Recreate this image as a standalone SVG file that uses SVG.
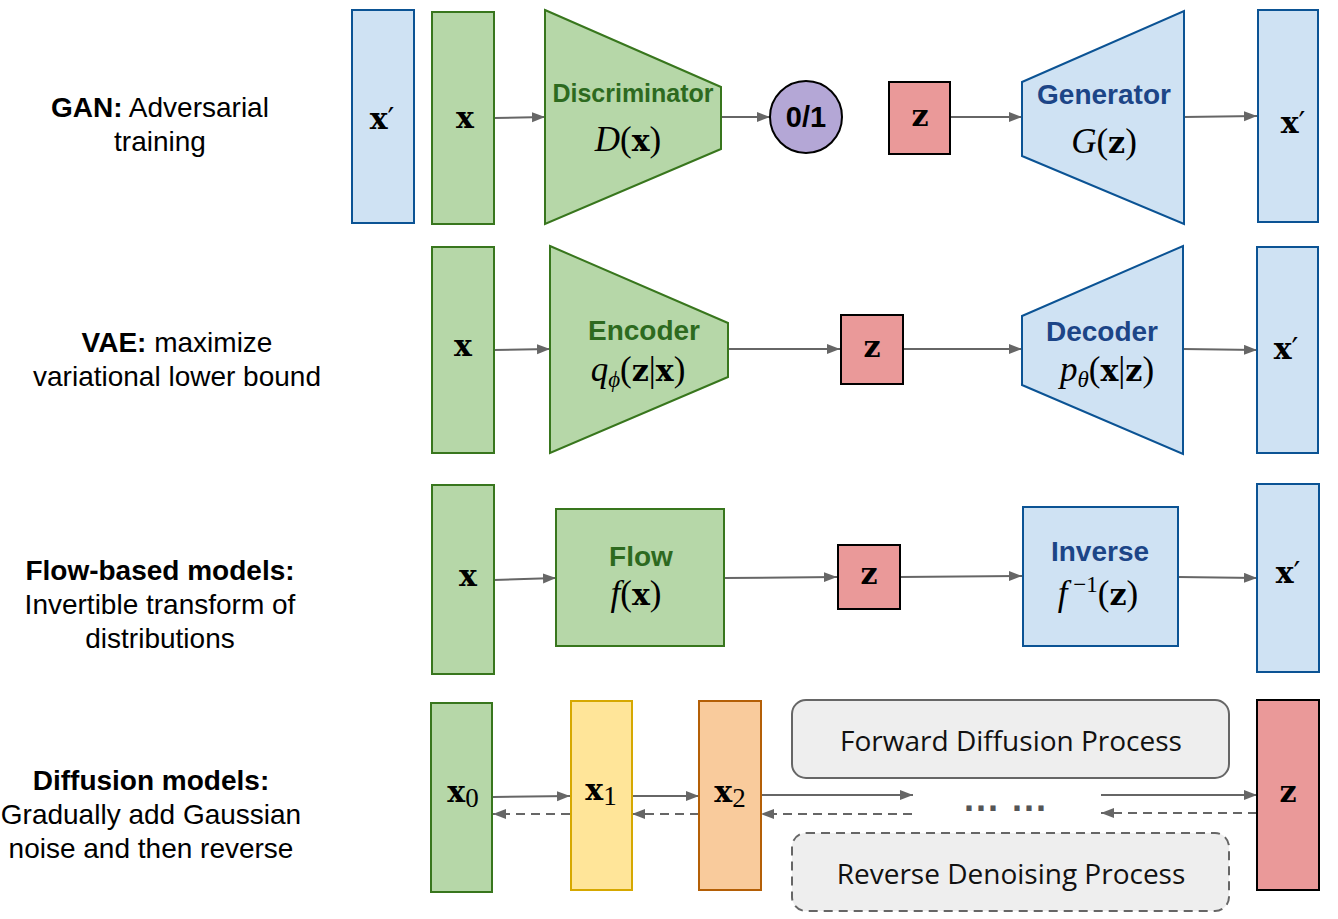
<svg xmlns="http://www.w3.org/2000/svg" width="1338" height="919" viewBox="0 0 1338 919">
<defs>
<marker id="ah" markerUnits="userSpaceOnUse" markerWidth="14" markerHeight="11" refX="13" refY="5" orient="auto">
<path d="M0,0 L13,5 L0,10 z" fill="#666"/>
</marker>
<style>
.lab{font-family:"Liberation Sans",Arial,sans-serif;font-size:28px;fill:#000;text-anchor:middle}
.b{font-weight:bold}
.g{fill:#b6d7a8;stroke:#38761d;stroke-width:2}
.bl{fill:#cfe2f3;stroke:#0b5394;stroke-width:2}
.r{fill:#ea9999;stroke:#000;stroke-width:2}
.ttl{font-family:"Liberation Sans",Arial,sans-serif;font-weight:bold;font-size:28px;text-anchor:middle}
.tg{fill:#2d6a1f}
.tb{fill:#1c4587}
.m{font-family:"Liberation Serif",serif;font-size:35px;fill:#000;text-anchor:middle}
.mb{font-family:"DejaVu Serif",serif;font-weight:bold;font-size:30px}
.mi{font-style:italic}
.sub{font-size:23px}
.pr{font-family:"DejaVu Sans",sans-serif;font-weight:normal;font-size:30px}
.c{fill:none;stroke:#666;stroke-width:2;marker-end:url(#ah)}
.d{stroke-dasharray:9 6}
.proc{font-family:"Open Sans","Noto Sans",sans-serif;font-size:28px;fill:#111;text-anchor:middle}
</style>
</defs>
<rect width="1338" height="919" fill="#fff"/>

<g id="labels">
<text class="lab" x="160" y="117"><tspan class="b">GAN:</tspan> Adversarial</text>
<text class="lab" x="160" y="151">training</text>
<text class="lab" x="177" y="352"><tspan class="b">VAE:</tspan> maximize</text>
<text class="lab" x="177" y="386">variational lower bound</text>
<text class="lab b" x="160" y="580">Flow-based models:</text>
<text class="lab" x="160" y="614">Invertible transform of</text>
<text class="lab" x="160" y="648">distributions</text>
<text class="lab b" x="151" y="790">Diffusion models:</text>
<text class="lab" x="151" y="824">Gradually add Gaussian</text>
<text class="lab" x="151" y="858">noise and then reverse</text>
</g>

<g id="connectors">
<line class="c" x1="494" y1="118" x2="545" y2="117"/>
<line class="c" x1="721" y1="117" x2="770" y2="117"/>
<line class="c" x1="950" y1="117" x2="1022" y2="117"/>
<line class="c" x1="1184" y1="117" x2="1257" y2="116"/>
<line class="c" x1="494" y1="350" x2="550" y2="349"/>
<line class="c" x1="728" y1="349" x2="840" y2="349"/>
<line class="c" x1="903" y1="349" x2="1022" y2="349"/>
<line class="c" x1="1183" y1="349" x2="1257" y2="350"/>
<line class="c" x1="494" y1="580" x2="556" y2="578"/>
<line class="c" x1="724" y1="578" x2="837" y2="577"/>
<line class="c" x1="900" y1="577" x2="1022" y2="576"/>
<line class="c" x1="1178" y1="577" x2="1257" y2="578"/>
<line class="c" x1="493" y1="797" x2="570" y2="796"/>
<line class="c" x1="632" y1="796" x2="699" y2="796"/>
<line class="c" x1="761" y1="795" x2="913" y2="795"/>
<line class="c" x1="1101" y1="795" x2="1257" y2="795"/>
<line class="c d" x1="570" y1="814" x2="493" y2="814"/>
<line class="c d" x1="699" y1="814" x2="632" y2="814"/>
<line class="c d" x1="912" y1="814" x2="761" y2="814"/>
<line class="c d" x1="1257" y1="813" x2="1101" y2="813"/>
</g>

<g id="gan-xprime-in">
<rect class="bl" x="352" y="10" width="62" height="213"/>
<text class="m mb" x="382" y="129">x<tspan class="pr">′</tspan></text>
</g>
<g id="gan-x">
<rect class="g" x="432" y="12" width="62" height="212"/>
<text class="m mb" x="465" y="128">x</text>
</g>
<g id="discriminator">
<polygon class="g" points="545,10 721,87 721,149 545,224"/>
<text class="ttl tg" x="633" y="102" style="font-size:25px">Discriminator</text>
<text class="m" x="628" y="151"><tspan class="mi">D</tspan>(<tspan class="mb">x</tspan>)</text>
</g>
<g id="output-01">
<circle cx="806" cy="117" r="36" fill="#b4a7d6" stroke="#000" stroke-width="2"/>
<text x="806" y="127" style="font-family:'Liberation Sans',Arial,sans-serif;font-weight:bold;font-size:29px;text-anchor:middle">0/1</text>
</g>
<g id="gan-z">
<rect class="r" x="889" y="82" width="61" height="72"/>
<text class="m mb" x="920" y="126">z</text>
</g>
<g id="generator">
<polygon class="bl" points="1022,82 1184,11 1184,224 1022,156"/>
<text class="ttl tb" x="1104" y="104">Generator</text>
<text class="m" x="1104" y="153"><tspan class="mi">G</tspan>(<tspan class="mb">z</tspan>)</text>
</g>
<g id="gan-xprime-out">
<rect class="bl" x="1258" y="10" width="60" height="212"/>
<text class="m mb" x="1293" y="133">x<tspan class="pr">′</tspan></text>
</g>

<g id="vae-x">
<rect class="g" x="432" y="247" width="62" height="206"/>
<text class="m mb" x="463" y="356">x</text>
</g>
<g id="encoder">
<polygon class="g" points="550,246 728,323 728,377 550,453"/>
<text class="ttl tg" x="644" y="340">Encoder</text>
<text class="m" x="638" y="381"><tspan class="mi">q</tspan><tspan class="mi sub" dy="6">ϕ</tspan><tspan dy="-6">(</tspan><tspan class="mb">z</tspan>|<tspan class="mb">x</tspan>)</text>
</g>
<g id="vae-z">
<rect class="r" x="841" y="315" width="62" height="69"/>
<text class="m mb" x="872" y="357">z</text>
</g>
<g id="decoder">
<polygon class="bl" points="1022,316 1183,246 1183,454 1022,385"/>
<text class="ttl tb" x="1102" y="341">Decoder</text>
<text class="m" x="1107" y="381"><tspan class="mi">p</tspan><tspan class="mi sub" dy="6">θ</tspan><tspan dy="-6">(</tspan><tspan class="mb">x</tspan>|<tspan class="mb">z</tspan>)</text>
</g>
<g id="vae-xprime">
<rect class="bl" x="1257" y="247" width="61" height="206"/>
<text class="m mb" x="1286" y="359">x<tspan class="pr">′</tspan></text>
</g>

<g id="flow-x">
<rect class="g" x="432" y="485" width="62" height="189"/>
<text class="m mb" x="468" y="586">x</text>
</g>
<g id="flow">
<rect class="g" x="556" y="509" width="168" height="137"/>
<text class="ttl tg" x="641" y="566">Flow</text>
<text class="m" x="636" y="605"><tspan class="mi">f</tspan>(<tspan class="mb">x</tspan>)</text>
</g>
<g id="flow-z">
<rect class="r" x="838" y="545" width="62" height="64"/>
<text class="m mb" x="869" y="584">z</text>
</g>
<g id="inverse">
<rect class="bl" x="1023" y="507" width="155" height="139"/>
<text class="ttl tb" x="1100" y="561">Inverse</text>
<text class="m" x="1098" y="605"><tspan class="mi">f</tspan><tspan class="sub" dy="-13"> −1</tspan><tspan dy="13">(</tspan><tspan class="mb">z</tspan>)</text>
</g>
<g id="flow-xprime">
<rect class="bl" x="1257" y="484" width="62" height="188"/>
<text class="m mb" x="1288" y="583">x<tspan class="pr">′</tspan></text>
</g>

<g id="x0">
<rect class="g" x="431" y="703" width="61" height="189"/>
<text class="m mb" x="463" y="802">x<tspan style="font-family:'Liberation Serif',serif;font-weight:normal;font-size:27px" dy="5">0</tspan></text>
</g>
<g id="x1">
<rect x="571" y="701" width="61" height="189" fill="#ffe599" stroke="#d6a800" stroke-width="2"/>
<text class="m mb" x="601" y="800">x<tspan style="font-family:'Liberation Serif',serif;font-weight:normal;font-size:27px" dy="5">1</tspan></text>
</g>
<g id="x2">
<rect x="699" y="701" width="62" height="189" fill="#f9cb9c" stroke="#b45f06" stroke-width="2"/>
<text class="m mb" x="730" y="802">x<tspan style="font-family:'Liberation Serif',serif;font-weight:normal;font-size:27px" dy="5">2</tspan></text>
</g>
<g id="ellipsis">
<text x="964" y="811" style="font-family:'Liberation Sans',Arial,sans-serif;font-weight:bold;font-size:36px;letter-spacing:2px;fill:#555">... ...</text>
</g>
<g id="forward">
<rect x="792" y="700" width="437" height="78" rx="14" fill="#eeeeee" stroke="#666" stroke-width="2"/>
<text class="proc" x="1011" y="751">Forward Diffusion Process</text>
</g>
<g id="reverse">
<rect x="792" y="833" width="437" height="78" rx="14" fill="#eeeeee" stroke="#666" stroke-width="2" stroke-dasharray="9 6"/>
<text class="proc" x="1011" y="884">Reverse Denoising Process</text>
</g>
<g id="diff-z">
<rect class="r" x="1257" y="700" width="62" height="190"/>
<text class="m mb" x="1288" y="802">z</text>
</g>
</svg>
